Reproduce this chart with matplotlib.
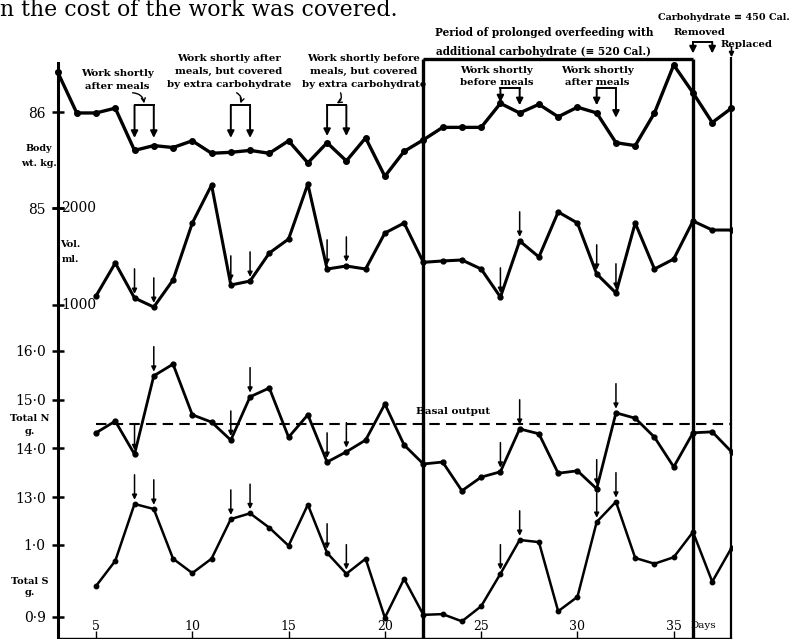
import matplotlib
matplotlib.use('Agg')
import matplotlib.pyplot as plt
from matplotlib.ticker import FuncFormatter

plt.rcParams['font.family'] = ['DejaVu Serif']

# ---- data ----
body_days = list(range(3, 39))
body_wt = [86.42, 85.99, 85.99, 86.04, 85.60, 85.65, 85.63, 85.70, 85.57, 85.58,
           85.60, 85.57, 85.70, 85.47, 85.68, 85.49, 85.73, 85.33, 85.59, 85.71,
           85.84, 85.84, 85.84, 86.09, 85.99, 86.08, 85.95, 86.05, 85.99, 85.68,
           85.65, 85.99, 86.49, 86.20, 85.89, 86.04]

days = list(range(5, 39))
vol_ml = [1093, 1433, 1072, 979, 1258, 1845, 2237, 1206, 1247, 1536,
          1680, 2247, 1371, 1402, 1371, 1742, 1845, 1440, 1454, 1464,
          1371, 1082, 1660, 1495, 1959, 1845, 1320, 1124, 1845, 1371,
          1474, 1866, 1773, 1773]
total_n = [14.32, 14.56, 13.88, 15.49, 15.73, 14.69, 14.54, 14.17, 15.06, 15.24,
           14.23, 14.69, 13.72, 13.93, 14.17, 14.91, 14.07, 13.68, 13.72, 13.13,
           13.41, 13.52, 14.40, 14.30, 13.49, 13.54, 13.17, 14.73, 14.62, 14.23,
           13.62, 14.32, 14.34, 13.93]
total_s = [0.943, 0.978, 1.057, 1.050, 0.981, 0.961, 0.981, 1.036, 1.044, 1.024,
           0.999, 1.056, 0.989, 0.960, 0.981, 0.899, 0.953, 0.903, 0.904, 0.894,
           0.915, 0.960, 1.007, 1.004, 0.908, 0.928, 1.032, 1.060, 0.982, 0.974,
           0.983, 1.018, 0.949, 0.996]
basal_n = 14.5

work_days = [7, 8, 12, 13, 17, 18, 26, 27, 31, 32]
period_start, period_end = 22, 36
replaced_day = 38
x_ticks = [5, 10, 15, 20, 25, 30, 35]

# ---- figure ----
W, H = 791, 639
TOP, BOT = 63, 638


def span(v_ref, px_ref, px_per_unit):
    # value range that puts v_ref at pixel row px_ref
    return (v_ref - (BOT - px_ref) / px_per_unit, v_ref + (px_ref - TOP) / px_per_unit)


fig = plt.figure(figsize=(W / 100, H / 100), dpi=100)
ax = fig.add_axes([57.5 / W, (H - BOT) / H, 674 / W, (BOT - TOP) / H])
ax.set_xlim(3, 38)
ax.set_ylim(*span(86, 112, 96))

ax_vol = ax.twinx()
ax_vol.set_ylim(*span(2000, 208, 0.097))
ax_n = ax.twinx()
ax_n.set_ylim(*span(16, 351, 48.7))
ax_s = ax.twinx()
ax_s.set_ylim(*span(1.0, 545, 720))

for a in (ax, ax_vol, ax_n, ax_s):
    for s in ('top', 'right'):
        a.spines[s].set_visible(False)
for a in (ax_vol, ax_n, ax_s):
    a.spines['left'].set_visible(False)
    a.spines['bottom'].set_visible(False)
    a.yaxis.tick_left()
    a.tick_params(axis='y', direction='inout', length=9, width=1.8, labelsize=10, pad=4)

ax.spines['left'].set_linewidth(2.2)
ax.spines['bottom'].set_linewidth(1.0)
ax.tick_params(axis='y', direction='inout', length=9, width=1.8, labelsize=10, pad=4)
ax.set_yticks([85, 86])
ax.yaxis.set_major_formatter(FuncFormatter(lambda v, p: '%d' % v))
ax.set_xticks(x_ticks)
ax.tick_params(axis='x', direction='in', length=5, width=1.0, labelsize=9, pad=-13)

dot = FuncFormatter(lambda v, p: ('%.1f' % v).replace('.', '\u00b7'))
ax_n.set_yticks([13, 14, 15, 16])
ax_n.yaxis.set_major_formatter(dot)
ax_s.set_yticks([0.9, 1.0])
ax_s.yaxis.set_major_formatter(dot)
ax_vol.set_yticks([1000, 2000])
ax_vol.set_yticklabels([])
for v in (1000, 2000):
    ax_vol.text(3.2, v, str(v), fontsize=10, ha='left', va='center')

# ---- series ----
ax.plot(body_days, body_wt, '-o', color='k', lw=2.4, ms=4, clip_on=False)
ax_vol.plot(days, vol_ml, '-o', color='k', lw=2.2, ms=3.5)
ax_n.plot(days, total_n, '-o', color='k', lw=2.0, ms=3.5)
ax_s.plot(days, total_s, '-o', color='k', lw=1.8, ms=3.2)
ax_n.hlines(basal_n, days[0], days[-1], colors='k', lw=1.5, linestyles=(0, (5, 3)))


def small_arrows(a, xs, ys, length=21):
    for d in work_days:
        v = ys[xs.index(d)]
        a.annotate('', xy=(d, v), xytext=(0, length), textcoords='offset points',
                   arrowprops=dict(arrowstyle='-|>', color='k', lw=1.1,
                                   shrinkA=0, shrinkB=3, mutation_scale=7))


small_arrows(ax_vol, days, vol_ml)
small_arrows(ax_n, days, total_n)
small_arrows(ax_s, days, total_s)

# ---- period box and marker lines ----
box_top = 86.55
y0 = ax.get_ylim()[0]
ax.vlines([period_start, period_end], y0, box_top, colors='k', lw=2.4, clip_on=False)
ax.hlines(box_top, period_start, period_end, colors='k', lw=2.4, clip_on=False)
ax.vlines(replaced_day, y0, 86.57, colors='k', lw=1.6, clip_on=False)

# ---- brackets over body weight ----
brackets = [(7, 8, 86.07, 85.73, 85.73), (12, 13, 86.07, 85.73, 85.73),
            (17, 18, 86.07, 85.75, 85.75), (26, 27, 86.25, 86.10, 86.07),
            (31, 32, 86.25, 86.07, 85.94), (36, 37, 86.73, 86.61, 86.61)]
for d1, d2, top, t1, t2 in brackets:
    ax.plot([d1, d2], [top, top], color='k', lw=1.4, clip_on=False)
    for d, t in ((d1, t1), (d2, t2)):
        ax.annotate('', xy=(d, t), xytext=(d, top), annotation_clip=False,
                    arrowprops=dict(arrowstyle='-|>', color='k', lw=1.4,
                                    shrinkA=0, shrinkB=0, mutation_scale=10))
ax.annotate('', xy=(replaced_day, 86.57), xytext=(replaced_day, 86.68), annotation_clip=False,
            arrowprops=dict(arrowstyle='-|>', color='k', lw=1.2, shrinkA=0, shrinkB=0,
                            mutation_scale=7))

for x0, y0h, x1 in ((6.9, 86.2, 7.5), (12.3, 86.2, 12.5), (17.7, 86.2, 17.5)):
    ax.annotate('', xy=(x1, 86.09), xytext=(x0, y0h), annotation_clip=False,
                arrowprops=dict(arrowstyle='->', color='k', lw=1.0, shrinkA=0, shrinkB=0,
                                connectionstyle='arc3,rad=-0.4', mutation_scale=7))

bold = dict(fontweight='bold', fontsize=7.3, ha='center', va='center')
ax.text(6.09, 86.33, 'Work shortly\nafter meals', linespacing=1.6, **bold)
ax.text(11.9, 86.42, 'Work shortly after\nmeals, but covered\nby extra carbohydrate',
        linespacing=1.6, **bold)
ax.text(18.9, 86.42, 'Work shortly before\nmeals, but covered\nby extra carbohydrate',
        linespacing=1.6, **bold)
ax.text(28.26, 86.73, 'Period of prolonged overfeeding with\nadditional carbohydrate (\u2261 520 Cal.)',
        fontweight='bold', fontsize=7.6, ha='center', va='center', linespacing=1.8)
ax.text(25.8, 86.37, 'Work shortly\nbefore meals', linespacing=1.4, **bold)
ax.text(31.04, 86.37, 'Work shortly\nafter meals', linespacing=1.4, **bold)
ax.text(41.0, 86.98, 'Carbohydrate \u2261 450 Cal.', fontweight='bold', fontsize=6.9,
        ha='right', va='center')
ax.text(36.36, 86.83, 'Removed', fontweight='bold', fontsize=7.3, ha='center', va='center')
ax.text(37.45, 86.70, 'Replaced', fontweight='bold', fontsize=7.3, ha='left', va='center')

# axis captions
cap = dict(fontweight='bold', ha='center', va='center')
ax.text(2.04, 85.54, 'Body\nwt. kg.', fontsize=6.8, linespacing=1.9, **cap)
ax_vol.text(3.65, 1546, 'Vol.\nml.', fontsize=7, linespacing=1.8, **cap)
ax_n.text(1.57, 14.48, 'Total N\ng.', fontsize=7, linespacing=1.5, **cap)
ax_s.text(1.57, 0.9417, 'Total S\ng.', fontsize=7, linespacing=1.35, **cap)
ax_n.text(21.6, 14.75, 'Basal output', fontweight='bold', fontsize=7.5, ha='left', va='center')
ax.text(35.85, 0.0226, 'Days', transform=ax.get_xaxis_transform(), fontsize=7.5,
        ha='left', va='center')

fig.text(0.0, 1 - 16 / H, 'n the cost of the work was covered.', fontsize=15.8, va='baseline')

fig.savefig('out.png', dpi=100)
